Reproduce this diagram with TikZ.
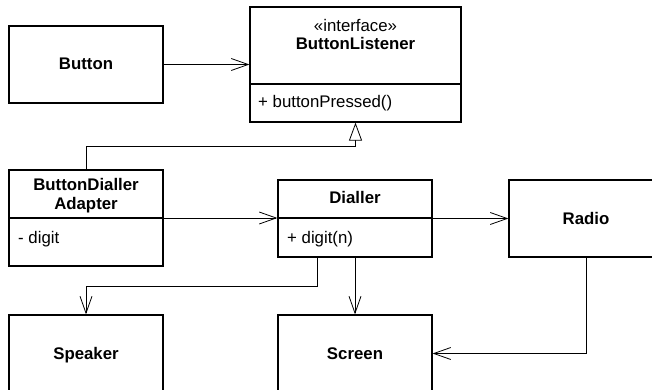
\documentclass[tikz,border=0pt]{standalone}
\usepackage{fontspec}
\setmainfont{Liberation Sans}
\usetikzlibrary{arrows.meta}

\newcommand\umlsize{\fontsize{16.8}{19}\selectfont}

\tikzset{
	classbox/.style={draw, line width=1.2pt, minimum width=154pt, minimum height=77pt, inner sep=0pt, font=\umlsize\bfseries, text height=11pt, text depth=0pt},
	member/.style={anchor=base west, inner sep=0pt, font=\umlsize},
	title/.style={anchor=base, inner sep=0pt, font=\umlsize\bfseries},
	assoc/.style={draw, line width=0.8pt, -{Straight Barb[length=17pt,width=12pt]}},
	inherit/.style={draw, line width=0.8pt, -{Triangle[open,length=18pt,width=13pt,fill=white]}},
}

\begin{document}
\begin{tikzpicture}[x=1pt,y=-1pt]
	\clip (0,0) rectangle (652,390);
	% classes
	\node[classbox] (button) at (86,64.5) {Button};
	\node[classbox, minimum width=211pt, minimum height=115pt] (listener) at (355.5,64.5) {};
	\node[classbox, minimum height=96pt] (adapter) at (86,218) {};
	\node[classbox] (dialler) at (355,218.5) {};
	\node[classbox] (radio) at (586,218.5) {Radio};
	\node[classbox] (speaker) at (86,353.5) {Speaker};
	\node[classbox] (screen) at (355,353.5) {Screen};
				\draw[line width=1.2pt] (listener.west |- 0,84) -- (listener.east |- 0,84);
				\draw[line width=1.2pt] (adapter.west) -- (adapter.east);
				\draw[line width=1.2pt] (dialler.west |- 0,218) -- (dialler.east |- 0,218);
				% names and members
				\node[anchor=base, inner sep=0pt, font=\umlsize] (stereo) at (355.5,32) {«interface»};
				\node[title] (listenername) at (355.5,50) {ButtonListener};
				\node[member] (pressed) at (258,108) {+ buttonPressed()};
				\node[title, align=center] (adaptername) at (86,209) {ButtonDialler\\Adapter};
				\node[member] (digit) at (18,243) {- digit};
				\node[title] (diallername) at (355,203) {Dialler};
				\node[member] (digitop) at (287,243) {+ digit(n)};
	% links
	\draw[assoc] (button) -- (listener);
	\draw[inherit] (adapter.north) |- ([yshift=-24pt]listener.south) -- (listener.south);
	\draw[assoc] (adapter.east) -- (adapter.east -| dialler.west);
	\draw[assoc] (dialler) -- (radio);
	\draw[assoc] ([xshift=-38pt]dialler.south) -- ++(0,29) -| (speaker.north);
	\draw[assoc] (dialler) -- (screen);
	\draw[assoc] (radio.south) |- (screen.east);
\end{tikzpicture}
\end{document}
